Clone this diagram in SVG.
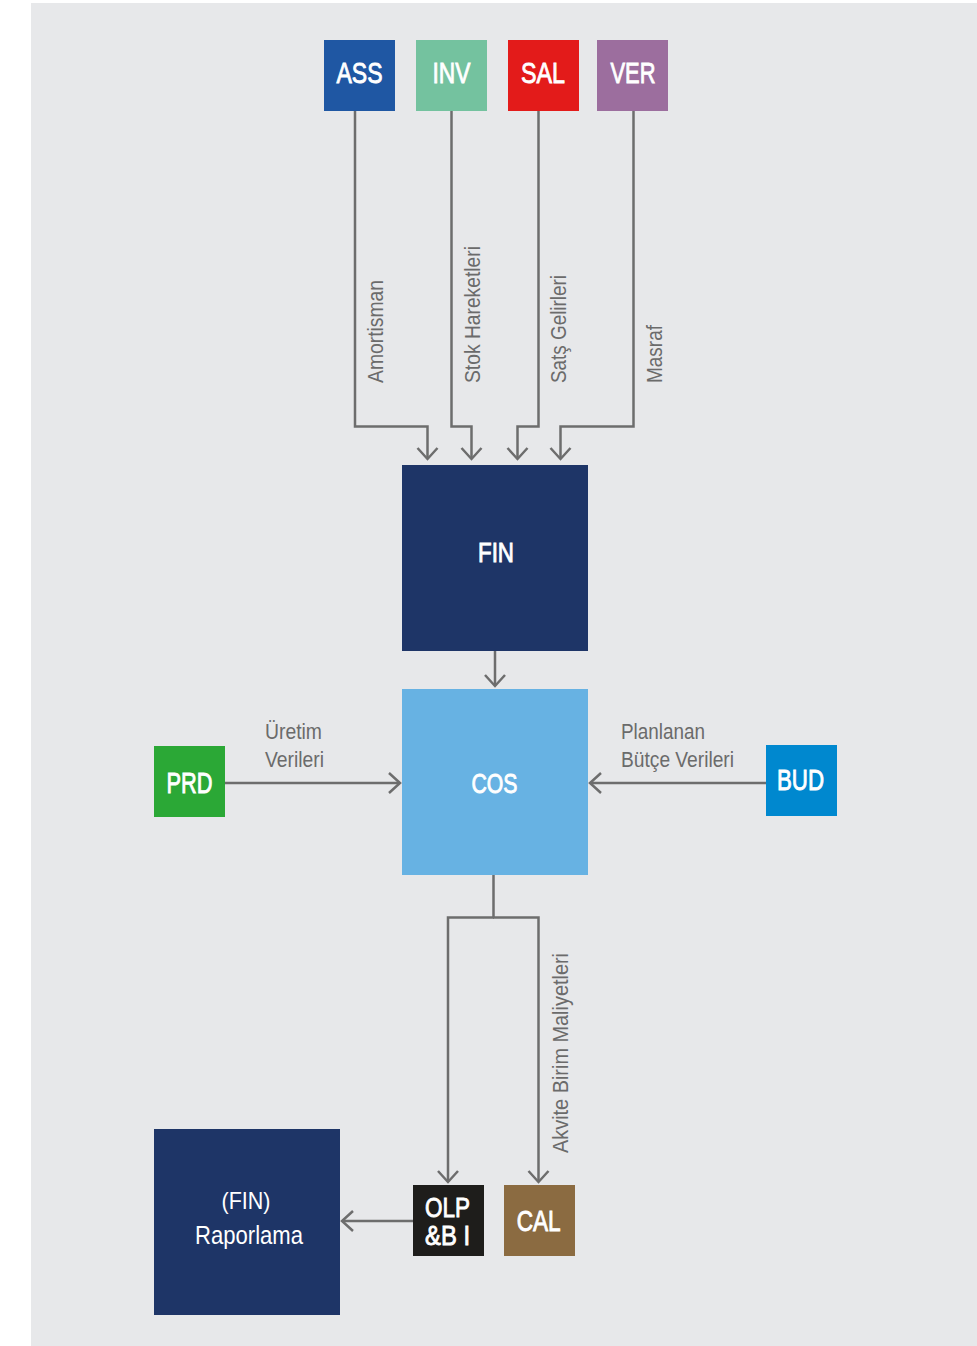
<svg xmlns="http://www.w3.org/2000/svg" width="977" height="1346" viewBox="0 0 977 1346">
<style>
.box-t{font-family:"Liberation Sans",Arial,sans-serif;fill:#ffffff;text-anchor:middle}
.b{stroke:#ffffff;stroke-width:0.9}
.lbl{font-family:"Liberation Sans",Arial,sans-serif;fill:#6b6b6b;font-size:22px}
.con{fill:none;stroke:#6d6d6d;stroke-width:2.5}
.arr{marker-end:url(#ah)}
</style>
<defs>
<marker id="ah" markerUnits="userSpaceOnUse" viewBox="-13 -12 15 24" markerWidth="15" markerHeight="24" refX="0" refY="0" orient="auto">
<path d="M-11,-10 L0,0 L-11,10" fill="none" stroke="#6d6d6d" stroke-width="2.5"/>
</marker>
</defs>
<rect x="0" y="0" width="977" height="1346" fill="#ffffff"/>
<rect x="31" y="3" width="946" height="1343" fill="#e7e8ea"/>

<g id="connectors">
<path class="con arr" d="M355,111 V426.5 H427.5 V459"/>
<path class="con arr" d="M451.5,111 V426.5 H471.5 V459"/>
<path class="con arr" d="M538.5,111 V426.5 H517.5 V459"/>
<path class="con arr" d="M633.5,111 V426.5 H560.5 V459"/>
<path class="con arr" d="M495,651 V686"/>
<path class="con arr" d="M225,783 H400"/>
<path class="con arr" d="M766,783 H590"/>
<path class="con" d="M493.5,875 V917.5"/>
<path class="con arr" d="M494,917.5 H448 V1182"/>
<path class="con arr" d="M493,917.5 H538.5 V1182"/>
<path class="con arr" d="M413,1221 H342"/>
<text class="lbl" transform="translate(383,383) rotate(-90)" textLength="103" lengthAdjust="spacingAndGlyphs">Amortisman</text>
<text class="lbl" transform="translate(480,383) rotate(-90)" textLength="137" lengthAdjust="spacingAndGlyphs">Stok Hareketleri</text>
<text class="lbl" transform="translate(566,383) rotate(-90)" textLength="108" lengthAdjust="spacingAndGlyphs">Satş Gelirleri</text>
<text class="lbl" transform="translate(662,383) rotate(-90)" textLength="58" lengthAdjust="spacingAndGlyphs">Masraf</text>
<text class="lbl" transform="translate(568,1153) rotate(-90)" textLength="200" lengthAdjust="spacingAndGlyphs">Akvite Birim Maliyetleri</text>
<text class="lbl" x="265" y="739" textLength="57" lengthAdjust="spacingAndGlyphs">Üretim</text>
<text class="lbl" x="265" y="767" textLength="59" lengthAdjust="spacingAndGlyphs">Verileri</text>
<text class="lbl" x="621" y="739" textLength="84" lengthAdjust="spacingAndGlyphs">Planlanan</text>
<text class="lbl" x="621" y="767" textLength="113" lengthAdjust="spacingAndGlyphs">Bütçe Verileri</text>
</g>

<g id="ASS">
<rect x="324" y="40" width="71" height="71" fill="#1f57a3"/>
<text class="box-t b" x="359.5" y="83" font-size="30" textLength="46" lengthAdjust="spacingAndGlyphs">ASS</text>
</g>
<g id="INV">
<rect x="416" y="40" width="71" height="71" fill="#74c29f"/>
<text class="box-t b" x="451.5" y="83" font-size="30" textLength="38" lengthAdjust="spacingAndGlyphs">INV</text>
</g>
<g id="SAL">
<rect x="508" y="40" width="71" height="71" fill="#e31b1a"/>
<text class="box-t b" x="543" y="83" font-size="30" textLength="44" lengthAdjust="spacingAndGlyphs">SAL</text>
</g>
<g id="VER">
<rect x="597" y="40" width="71" height="71" fill="#9c6e9e"/>
<text class="box-t b" x="633" y="83" font-size="30" textLength="45" lengthAdjust="spacingAndGlyphs">VER</text>
</g>
<g id="FIN">
<rect x="402" y="465" width="186" height="186" fill="#1e3567"/>
<text class="box-t b" x="496" y="562" font-size="27" textLength="36" lengthAdjust="spacingAndGlyphs">FIN</text>
</g>
<g id="COS">
<rect x="402" y="689" width="186" height="186" fill="#67b2e3"/>
<text class="box-t b" x="494.5" y="793" font-size="28" textLength="46" lengthAdjust="spacingAndGlyphs">COS</text>
</g>
<g id="PRD">
<rect x="154" y="746" width="71" height="71" fill="#2ba836"/>
<text class="box-t b" x="189.5" y="793" font-size="29" textLength="46" lengthAdjust="spacingAndGlyphs">PRD</text>
</g>
<g id="BUD">
<rect x="766" y="745" width="71" height="71" fill="#0088cf"/>
<text class="box-t b" x="800.5" y="790" font-size="29" textLength="47" lengthAdjust="spacingAndGlyphs">BUD</text>
</g>
<g id="OLP">
<rect x="413" y="1185" width="71" height="71" fill="#1e1d1b"/>
<text class="box-t b" x="447.5" y="1217" font-size="28" textLength="45" lengthAdjust="spacingAndGlyphs">OLP</text>
<text class="box-t b" x="447.5" y="1245" font-size="28" textLength="45" lengthAdjust="spacingAndGlyphs">&amp;B I</text>
</g>
<g id="CAL">
<rect x="504" y="1185" width="71" height="71" fill="#8b6b41"/>
<text class="box-t b" x="538.7" y="1231" font-size="29" textLength="44" lengthAdjust="spacingAndGlyphs">CAL</text>
</g>
<g id="Raporlama">
<rect x="154" y="1129" width="186" height="186" fill="#1e3567"/>
<text class="box-t" x="246" y="1209" font-size="24" textLength="49" lengthAdjust="spacingAndGlyphs">(FIN)</text>
<text class="box-t" x="249" y="1243.5" font-size="25" textLength="108" lengthAdjust="spacingAndGlyphs">Raporlama</text>
</g>
</svg>
